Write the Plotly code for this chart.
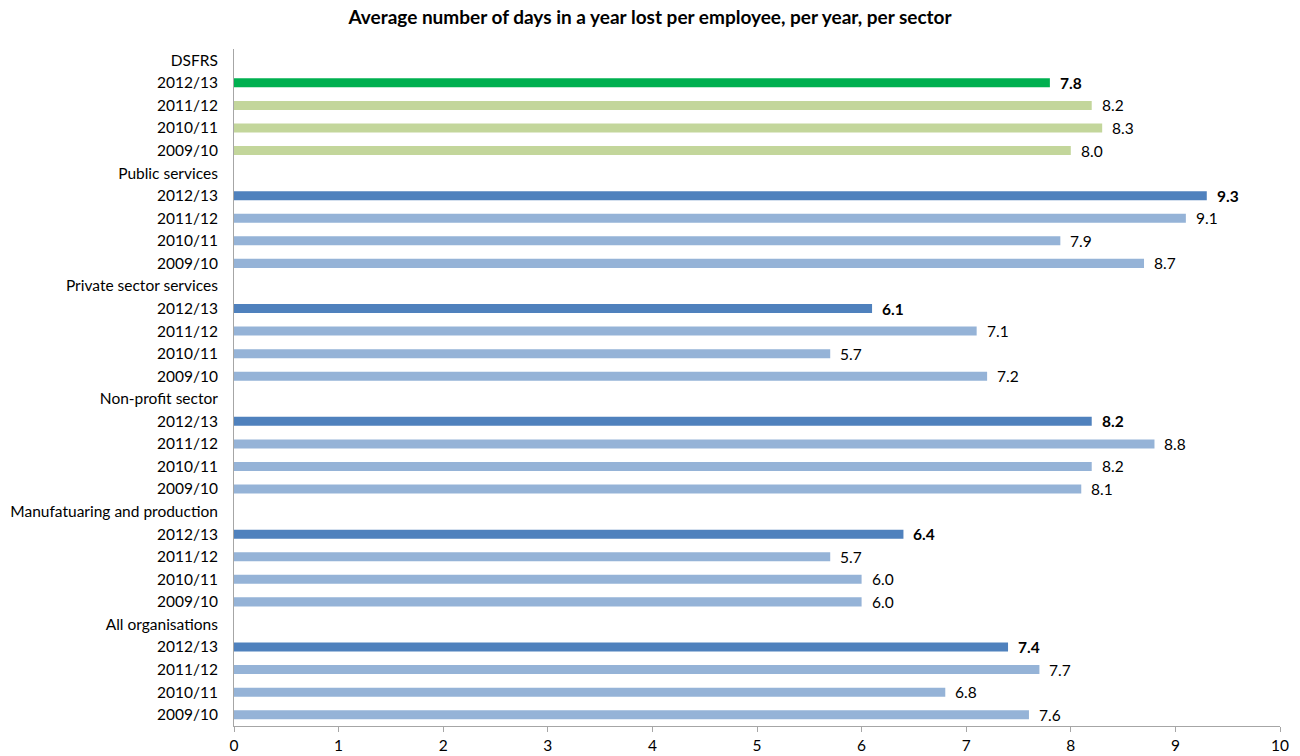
import plotly.graph_objects as go

sectors = ["DSFRS", "Public services", "Private sector services", "Non-profit sector",
           "Manufatuaring and production", "All organisations"]
years = ["2012/13", "2011/12", "2010/11", "2009/10"]
values = [
    [7.8, 8.2, 8.3, 8.0],
    [9.3, 9.1, 7.9, 8.7],
    [6.1, 7.1, 5.7, 7.2],
    [8.2, 8.8, 8.2, 8.1],
    [6.4, 5.7, 6.0, 6.0],
    [7.4, 7.7, 6.8, 7.6],
]

tickvals, ticktext = [], []
bx, by, bc, bt = [], [], [], []
row = 0
for si, s in enumerate(sectors):
    tickvals.append(row); ticktext.append(s)
    row += 1
    for yi, yr in enumerate(years):
        tickvals.append(row); ticktext.append(yr)
        v = values[si][yi]
        bx.append(v); by.append(row)
        if si == 0:
            bc.append("#00B050" if yi == 0 else "#C3D69B")
        else:
            bc.append("#4F81BD" if yi == 0 else "#95B3D7")
        bt.append(f"<b>{v:.1f}</b>" if yi == 0 else f"{v:.1f}")
        row += 1

FONT = "Lato, sans-serif"

fig = go.Figure(go.Bar(x=bx, y=by, orientation="h", width=0.4,
                       marker=dict(color=bc, line=dict(width=0)), hoverinfo="skip"))

for x, y, t in zip(bx, by, bt):
    fig.add_annotation(x=x, y=y, text=t, showarrow=False, xanchor="left", xshift=8,
                       font=dict(family=FONT, size=15.5, color="#000"))

fig.update_layout(
    width=1300, height=756,
    margin=dict(l=234, r=20, t=49, b=30),
    paper_bgcolor="white", plot_bgcolor="white",
    showlegend=False,
    title=dict(text="<b>Average number of days in a year lost per employee, per year, per sector</b>",
               x=0.5, xanchor="center", y=0.977, yanchor="middle",
               font=dict(family=FONT, size=19, color="#000")),
    font=dict(family=FONT, size=15.5, color="#000"),
    xaxis=dict(range=[0, 10], dtick=1, showgrid=False, zeroline=False, automargin=False,
               showline=True, linecolor="#A6A6A6", linewidth=1,
               ticks="outside", ticklen=5, tickcolor="#A6A6A6", tickfont=dict(size=15.5)),
    yaxis=dict(range=[29.5, -0.5], tickvals=tickvals, ticktext=ticktext, automargin=False,
               showgrid=False, zeroline=False, showline=True, linecolor="#A6A6A6",
               linewidth=1, ticks="", ticklabelstandoff=12, tickfont=dict(size=15.5)),
)

fig.write_html("out.html")
